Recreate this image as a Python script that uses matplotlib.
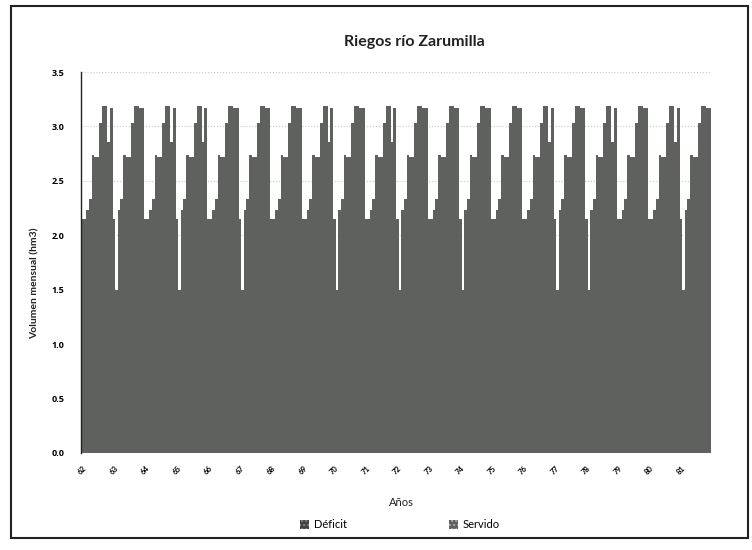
import numpy as np
import matplotlib
matplotlib.use('Agg')
from matplotlib import pyplot as plt
from matplotlib.patches import Rectangle, Patch

plt.rcParams['font.family'] = ['Lato', 'DejaVu Sans']

anos = ['62', '63', '64', '65', '66', '67', '68', '69', '70', '71',
        '72', '73', '74', '75', '76', '77', '78', '79', '80', '81']

# volumen mensual servido (hm3), una fila por año, 12 meses
servido_por_ano = [
    [2.15, 2.15, 2.23, 2.33, 2.74, 2.72, 2.72, 3.03, 3.19, 3.19, 2.86, 3.17],
    [2.15, 1.50, 2.23, 2.33, 2.74, 2.72, 2.72, 3.03, 3.19, 3.19, 3.17, 3.17],
    [2.15, 2.15, 2.23, 2.33, 2.74, 2.72, 2.72, 3.03, 3.19, 3.19, 2.86, 3.17],
    [2.15, 1.50, 2.23, 2.33, 2.74, 2.72, 2.72, 3.03, 3.19, 3.19, 2.86, 3.17],
    [2.15, 2.15, 2.23, 2.33, 2.74, 2.72, 2.72, 3.03, 3.19, 3.19, 3.17, 3.17],
    [2.15, 1.50, 2.23, 2.33, 2.74, 2.72, 2.72, 3.03, 3.19, 3.19, 3.17, 3.17],
    [2.15, 2.15, 2.23, 2.33, 2.74, 2.72, 2.72, 3.03, 3.19, 3.19, 3.17, 3.17],
    [2.15, 2.15, 2.23, 2.33, 2.74, 2.72, 2.72, 3.03, 3.19, 3.19, 2.86, 3.17],
    [2.15, 1.50, 2.23, 2.33, 2.74, 2.72, 2.72, 3.03, 3.19, 3.19, 3.17, 3.17],
    [2.15, 2.15, 2.23, 2.33, 2.74, 2.72, 2.72, 3.03, 3.19, 3.19, 2.86, 3.17],
    [2.15, 1.50, 2.23, 2.33, 2.74, 2.72, 2.72, 3.03, 3.19, 3.19, 3.17, 3.17],
    [2.15, 2.15, 2.23, 2.33, 2.74, 2.72, 2.72, 3.03, 3.19, 3.19, 3.17, 3.17],
    [2.15, 1.50, 2.23, 2.33, 2.74, 2.72, 2.72, 3.03, 3.19, 3.19, 3.17, 3.17],
    [2.15, 2.15, 2.23, 2.33, 2.74, 2.72, 2.72, 3.03, 3.19, 3.19, 3.17, 3.17],
    [2.15, 2.15, 2.23, 2.33, 2.74, 2.72, 2.72, 3.03, 3.19, 3.19, 2.86, 3.17],
    [2.15, 1.50, 2.23, 2.33, 2.74, 2.72, 2.72, 3.03, 3.19, 3.19, 3.17, 3.17],
    [2.15, 1.50, 2.23, 2.33, 2.74, 2.72, 2.72, 3.03, 3.19, 3.19, 2.86, 3.17],
    [2.15, 2.15, 2.23, 2.33, 2.74, 2.72, 2.72, 3.03, 3.19, 3.19, 3.17, 3.17],
    [2.15, 2.15, 2.23, 2.33, 2.74, 2.72, 2.72, 3.03, 3.19, 3.19, 2.86, 3.17],
    [2.15, 1.50, 2.23, 2.33, 2.74, 2.72, 2.72, 3.03, 3.19, 3.19, 3.17, 3.17],
]
# el déficit no se distingue en la figura
deficit_por_ano = [[0.0] * 12 for _ in anos]

servido = np.ravel(servido_por_ano)
deficit = np.ravel(deficit_por_ano)
meses = np.arange(len(servido))

W, H = 752, 550
fig = plt.figure(figsize=(W / 100, H / 100), dpi=100)
fig.patches.append(Rectangle((11 / W, 1 - 538 / H), 737 / W, 532 / H,
                             transform=fig.transFigure, fill=False,
                             edgecolor='#222222', lw=1.5))

ax = fig.add_axes([81 / W, 97 / H, 630 / W, 381 / H])
ax.bar(meses, servido, width=1.0, color='#5e615e', linewidth=0)
ax.bar(meses, deficit, bottom=servido, width=1.0, color='#404341', linewidth=0)

ax.set_xlim(-0.5, len(servido) - 0.5)
ax.set_ylim(0, 3.5)
yt = np.arange(0, 3.51, 0.5)
ax.set_yticks(yt)
ax.set_yticklabels(['%.1f' % v for v in yt], fontsize=6.5, fontweight='bold',
                   family=['Open Sans', 'DejaVu Sans'])
ax.set_xticks(np.arange(len(anos)) * 12)
ax.set_xticklabels(anos, rotation=45, fontsize=5.5, fontweight='bold', ha='center')
ax.tick_params(axis='both', length=0, pad=8)
ax.tick_params(axis='y', pad=12)
ax.yaxis.grid(True, color='#c8c8c8', linestyle=':', lw=0.8)
ax.set_axisbelow(True)
for s in ['top', 'right', 'bottom']:
    ax.spines[s].set_visible(False)
ax.spines['left'].set_color('#222222')
ax.spines['left'].set_linewidth(1.0)

fig.text(414 / W, 1 - 42 / H, 'Riegos río Zarumilla', ha='center', va='center',
         fontsize=11.5, fontweight='bold', color='#222222')
fig.text(35 / W, 1 - 283 / H, 'Volumen mensual (hm3)', rotation=90,
         ha='center', va='center', fontsize=7.5, fontweight='bold', color='#222222')
fig.text(401 / W, 1 - 502 / H, 'Años', ha='center', va='center',
         fontsize=8, color='#222222')

handles = [Patch(facecolor='#404341', hatch='....', edgecolor='#888888', lw=0, label='Déficit'),
           Patch(facecolor='#5e615e', hatch='....', edgecolor='#aaaaaa', lw=0, label='Servido')]
fig.legend(handles=handles, loc='center', bbox_to_anchor=(400 / W, 1 - 525 / H),
           ncol=2, frameon=False, fontsize=8, columnspacing=9.2,
           handlelength=0.8, handleheight=0.8, handletextpad=0.4)

fig.savefig('out.png', dpi=100)
